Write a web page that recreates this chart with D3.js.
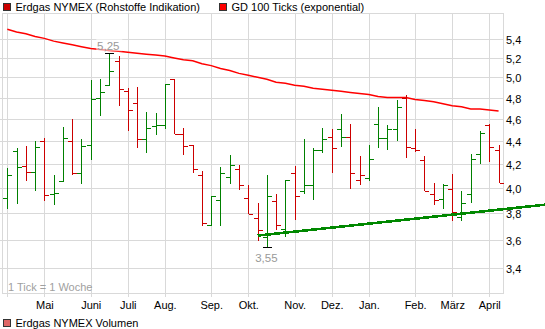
<!DOCTYPE html>
<html>
<head>
<meta charset="utf-8">
<script src="https://cdn.jsdelivr.net/npm/d3@7"></script>
<style>
  html, body { margin: 0; padding: 0; background: #fff; }
  svg { display: block; font-family: "Liberation Sans", Arial, sans-serif; }
</style>
</head>
<body>
<script>
// ---- data (weekly OHLC, week index 0..53) ----
const opens  = [3.92,4.31,4.18,4.13,4.40,3.95,4.05,4.40,4.12,4.36,4.80,4.92,5.17,4.86,4.75,4.41,4.53,4.54,4.98,4.46,4.36,4.10,3.71,3.90,4.09,4.15,3.92,3.76,3.62,3.89,3.68,4.12,3.97,4.02,4.32,4.43,4.50,4.43,4.06,4.08,4.55,4.42,4.50,4.80,4.33,4.23,3.95,3.91,3.99,3.77,3.95,4.28,4.54,4.32];
const highs  = [4.16,4.33,4.35,4.40,4.42,4.10,4.52,4.60,4.41,4.97,4.98,5.25,5.22,4.89,4.90,4.66,4.65,4.93,4.98,4.51,4.36,4.14,3.93,4.17,4.27,4.19,4.02,3.88,4.10,3.95,4.06,4.18,4.41,4.33,4.51,4.50,4.64,4.55,4.26,4.36,4.71,4.54,4.78,4.82,4.50,4.26,4.04,4.03,4.11,3.97,4.28,4.49,4.55,4.36];
const lows   = [3.83,3.87,4.05,3.97,3.89,3.86,4.05,4.10,4.03,4.23,4.62,4.92,4.72,4.49,4.33,4.29,4.45,4.50,4.46,4.27,4.12,3.70,3.70,3.70,4.03,3.98,3.79,3.59,3.55,3.67,3.62,3.75,3.95,3.90,4.29,4.12,4.34,3.99,4.02,4.05,4.33,4.32,4.40,4.25,4.30,3.97,3.86,3.83,3.74,3.74,3.88,4.20,4.21,4.04];
const closes = [4.10,4.17,4.13,4.34,3.94,3.96,4.42,4.12,4.35,4.79,4.85,5.06,4.88,4.68,4.41,4.51,4.54,4.93,4.46,4.35,4.15,3.72,3.93,4.12,4.19,4.02,3.79,3.67,3.93,3.71,4.06,3.93,4.02,4.32,4.41,4.33,4.43,4.12,4.10,4.24,4.42,4.50,4.71,4.34,4.32,3.97,3.90,4.02,3.81,3.88,4.24,4.47,4.34,4.04];
// GD 100 (exponential) per week
const gd100  = [5.51,5.48,5.46,5.43,5.41,5.38,5.36,5.34,5.32,5.30,5.29,5.28,5.27,5.26,5.25,5.24,5.23,5.22,5.20,5.18,5.17,5.14,5.12,5.09,5.07,5.04,5.02,5.00,4.98,4.95,4.94,4.92,4.91,4.89,4.88,4.87,4.86,4.85,4.84,4.83,4.81,4.80,4.80,4.80,4.78,4.77,4.76,4.74,4.72,4.71,4.69,4.69,4.68,4.67];
// trend line (week index, value)
const trendWeeks  = [27, 58];
const trendValues = [3.63, 3.864];
// month axis
const monthWeeks  = [0, 4, 9, 13, 17, 22, 26, 31, 35, 39, 44, 48, 52];
const monthLabels = ["", "Mai", "Juni", "Juli", "Aug.", "Sep.", "Okt.", "Nov.", "Dez.", "Jan.", "Feb.", "März", "April"];
// value axis
const yTicks = [3.4, 3.6, 3.8, 4.0, 4.2, 4.4, 4.6, 4.8, 5.0, 5.2, 5.4];
const yDomain = [3.232, 5.695];
const weekDomain = [0, 52];

// ---- layout ----
const W = 545, H = 329;
const plot = { left: 3, right: 503, top: 13, bottom: 293 };
const de = d3.formatLocale({ decimal: ",", thousands: ".", grouping: [3], currency: ["", "€"] });
const fmt1 = de.format(".1f"), fmt2 = de.format(".2f");

const x = d3.scaleLinear().domain(weekDomain).range([7.3, 489.3]);
const y = d3.scaleLog().domain(yDomain).range([plot.bottom, plot.top]);
const px = v => Math.round(v) + 0.5;

const svg = d3.select("body").append("svg").attr("width", W).attr("height", H);
svg.append("rect").attr("width", W).attr("height", H).attr("fill", "#fff");

const grid = "#d9d9d9";
const g = svg.append("g").attr("shape-rendering", "crispEdges");

// horizontal grid
g.selectAll("line.hg").data(yTicks).join("line")
  .attr("x1", 0).attr("x2", plot.right)
  .attr("y1", d => px(y(d))).attr("y2", d => px(y(d)))
  .attr("stroke", grid).attr("stroke-width", 1);
// vertical grid
g.selectAll("line.vg").data(monthWeeks).join("line")
  .attr("x1", d => px(x(d))).attr("x2", d => px(x(d)))
  .attr("y1", plot.top).attr("y2", plot.bottom + 4)
  .attr("stroke", grid).attr("stroke-width", 1);
// frame
g.append("rect").attr("x", plot.left - 0.5).attr("y", plot.top + 0.5)
  .attr("width", plot.right - plot.left + 0.5).attr("height", plot.bottom - plot.top)
  .attr("fill", "none").attr("stroke", grid).attr("stroke-width", 1);

// GD 100 line
const line = d3.line().x((d, i) => x(i)).y(d => y(d));
svg.append("path").datum(gd100).attr("d", line)
  .attr("fill", "none").attr("stroke", "#ff0000").attr("stroke-width", 1.5);

// OHLC bars
const RED = "#cc0000", GREEN = "#008000";
const bars = svg.append("g").attr("shape-rendering", "crispEdges")
  .selectAll("g").data(d3.range(opens.length)).join("g")
  .attr("stroke", i => (i === 0 ? closes[i] >= opens[i] : closes[i] >= closes[i - 1]) ? GREEN : RED)
  .attr("stroke-width", 1);
bars.append("line")
  .attr("x1", i => px(x(i))).attr("x2", i => px(x(i)))
  .attr("y1", i => y(highs[i])).attr("y2", i => y(lows[i]));
bars.append("line")
  .attr("x1", i => px(x(i)) - 4.5).attr("x2", i => px(x(i)))
  .attr("y1", i => px(y(opens[i]))).attr("y2", i => px(y(opens[i])));
bars.append("line")
  .attr("x1", i => px(x(i))).attr("x2", i => px(x(i)) + 4.5)
  .attr("y1", i => px(y(closes[i]))).attr("y2", i => px(y(closes[i])));

// trend line
const tline = d3.line().x(d => x(d[0])).y(d => y(d[1]));
svg.append("path").datum(d3.zip(trendWeeks, trendValues)).attr("d", tline)
  .attr("fill", "none").attr("stroke", "#008800").attr("stroke-width", 2.6)
  .attr("shape-rendering", "crispEdges");

// high / low annotations
const iMax = d3.maxIndex(highs), iMin = d3.minIndex(lows);
svg.append("line").attr("x1", px(x(iMax)) - 4.5).attr("x2", px(x(iMax)) + 4.5)
  .attr("y1", px(y(highs[iMax]))).attr("y2", px(y(highs[iMax])))
  .attr("stroke", "#000").attr("stroke-width", 1).attr("shape-rendering", "crispEdges");
svg.append("line").attr("x1", px(x(iMin)) - 4.5).attr("x2", px(x(iMin)) + 4.5)
  .attr("y1", px(y(lows[iMin]))).attr("y2", px(y(lows[iMin])))
  .attr("stroke", "#000").attr("stroke-width", 1).attr("shape-rendering", "crispEdges");
svg.append("rect").attr("x", x(iMax) - 13).attr("y", y(highs[iMax]) - 16)
  .attr("width", 26).attr("height", 14).attr("fill", "#fff").attr("fill-opacity", 0.55);
svg.append("text").attr("x", x(iMax) - 1).attr("y", y(highs[iMax]) - 3.5)
  .attr("text-anchor", "middle").attr("font-size", 11.5).attr("fill", "#999")
  .text(fmt2(highs[iMax]));
svg.append("text").attr("x", x(iMin) - 0.5).attr("y", y(lows[iMin]) + 15.5)
  .attr("text-anchor", "middle").attr("font-size", 11.5).attr("fill", "#999")
  .text(fmt2(lows[iMin]));

// y axis labels (right)
svg.selectAll("text.yl").data(yTicks).join("text")
  .attr("x", plot.right + 3).attr("y", d => y(d) + 5)
  .attr("font-size", 11).attr("fill", "#000").text(d => fmt1(d));

// month labels
svg.selectAll("text.ml").data(monthWeeks.map((w, i) => [w, monthLabels[i]]).filter(d => d[1])).join("text")
  .attr("x", d => x(d[0]) + 0.5).attr("y", 308.5)
  .attr("text-anchor", "middle").attr("font-size", 11).attr("fill", "#000").text(d => d[1]);

// tick note
svg.append("text").attr("x", 8).attr("y", 290.5).attr("font-size", 11).attr("fill", "#a0a0a0")
  .text("1 Tick = 1 Woche");

// legends
function legend(xp, yp, color, label) {
  svg.append("rect").attr("x", xp + 0.5).attr("y", yp + 0.5).attr("width", 7).attr("height", 7)
    .attr("fill", color).attr("stroke", "#333").attr("stroke-width", 1)
    .attr("shape-rendering", "crispEdges");
  svg.append("text").attr("x", xp + 12.5).attr("y", yp + 8).attr("font-size", 11).attr("fill", "#000").text(label);
}
legend(3, 2.5, "#cc0000", "Erdgas NYMEX (Rohstoffe Indikation)");
legend(219, 2.5, "#ff0000", "GD 100 Ticks (exponential)");
legend(3, 318.5, "#e06666", "Erdgas NYMEX Volumen");
</script>
</body>
</html>
